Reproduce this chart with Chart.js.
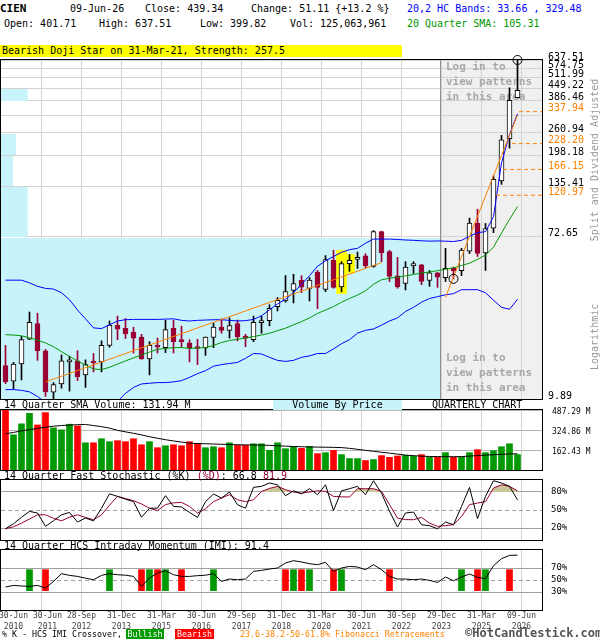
<!DOCTYPE html>
<html lang="en">
<head>
<meta charset="utf-8">
<title>CIEN Quarterly Chart</title>
<script src="https://cdn.jsdelivr.net/npm/chart.js@4.4.1/dist/chart.umd.min.js"></script>
<style>
    body { margin: 0; background: #fff; }
    #page { position: relative; width: 600px; height: 640px; overflow: hidden;
            font-family: 'DejaVu Sans Mono', monospace; font-size: 10px; color: #000; }
    #page canvas { position: absolute; left: 0; z-index: 1; }
    .txt { position: absolute; white-space: pre; line-height: 12px; z-index: 2; }
    .blue { color: #0000ff; }
    .green { color: #009900; }
    .crimson { color: #990033; }
    .side { position: absolute; color: #999; white-space: pre; line-height: 12px;
            transform: rotate(-90deg); z-index: 2; text-align: center; }
    .foot { position: absolute; top: 629px; font-size: 8.3px; line-height: 10px; white-space: pre; z-index: 2; }
</style>
</head>
<body>
<div id="page">
    <!-- 标题信息 -->
    <div class="txt" style="left:0;top:3px;font-weight:bold;font-size:11px">CIEN</div>
    <div class="txt" style="left:70px;top:3px">09-Jun-26</div>
    <div class="txt" style="left:145px;top:3px">Close: 439.34</div>
    <div class="txt" style="left:251px;top:3px">Change: 51.11 {+13.2 %}</div>
    <div class="txt blue" style="left:407px;top:3px">20,2 HC Bands: 33.66 , 329.48</div>
    <div class="txt" style="left:4px;top:18px">Open: 401.71</div>
    <div class="txt" style="left:99px;top:18px">High: 637.51</div>
    <div class="txt" style="left:200px;top:18px">Low: 399.82</div>
    <div class="txt" style="left:290px;top:18px">Vol: 125,063,961</div>
    <div class="txt green" style="left:407px;top:18px">20 Quarter SMA: 105.31</div>
    <div class="txt" style="left:0;top:45px;width:402px;height:12px;background:#ffff00;padding-left:2px;box-sizing:border-box">Bearish Doji Star on 31-Mar-21, Strength: 257.5</div>

    <canvas id="priceChart" width="600" height="354" style="top:50px"></canvas>
    <canvas id="volumeChart" width="600" height="71" style="top:404px"></canvas>
    <canvas id="stochChart" width="600" height="72" style="top:474px"></canvas>
    <canvas id="imiChart" width="600" height="90" style="top:544px"></canvas>

    <div class="side" style="left:513px;top:154px;width:164px">Split and Dividend Adjusted</div>
    <div class="side" style="left:562px;top:331px;width:66px">Logarithmic</div>

    <!-- 副图标题 -->
    <div class="txt" style="left:4px;top:399px">14 Quarter SMA Volume: 131.94 M</div>
    <div class="txt" style="left:273px;top:400px;width:129px;height:10px;line-height:10px;background:#c9f3fb;text-align:center">Volume By Price</div>
    <div class="txt" style="left:432px;top:399px">QUARTERLY CHART</div>
    <div class="txt" style="left:4px;top:470px">14 Quarter Fast Stochastic (%K) <span class="crimson">(%D)</span>: 66.8 <span class="crimson">81.9</span></div>
    <div class="txt" style="left:4px;top:540px">14 Quarter HCS Intraday Momentum (IMI): 91.4</div>

    <!-- 页脚 -->
    <div class="foot" style="left:2px">% K - HCS IMI Crossover,</div>
    <div class="foot" style="left:126px;width:38px;background:#009900;color:#fff;text-align:center">Bullish</div>
    <div class="foot" style="left:175px;width:39px;background:#ff0000;color:#fff;text-align:center">Bearish</div>
    <div class="foot" style="left:240px;color:#ff8000">23.6-38.2-50-61.8% Fibonacci Retracements</div>
    <div class="foot" style="left:465px;top:627px;font-size:12px;line-height:13px;font-weight:bold;color:#555">©HotCandlestick.com</div>
</div>

<script>
// 季度K线数据 (Q2 2010 - Q2 2026)
const opens  = [14.9, 12.3, 15.2, 20.6, 25.0, 17.9, 10.75, 11.9, 15.6, 15.8,
                13.3, 15.6, 15.6, 19.1, 24.5, 23.6, 22.5, 21.2, 16.2, 19.1,
                18.6, 23.6, 20.3, 19.7, 18.6, 18.5, 21.1, 23.9, 23.0, 25.0,
                21.4, 20.5, 25.3, 25.9, 30.8, 33.0, 37.6, 42.5, 38.5, 47.0,
                38.0, 54.4, 39.2, 52.2, 55.0, 57.4, 50.4, 77.3, 60.5, 45.0,
                40.9, 50.8, 51.5, 42.5, 46.6, 43.9, 49.2, 47.9, 60.9, 85.8,
                59.5, 80.7, 144.1, 242.2, 401.71];
const highs  = [19.1, 15.5, 21.4, 28.8, 28.4, 18.2, 12.1, 17.0, 16.7, 17.9,
                16.0, 17.3, 20.2, 25.8, 27.4, 26.6, 23.9, 21.9, 20.0, 20.9,
                26.0, 26.0, 24.2, 20.5, 20.6, 21.2, 25.1, 26.5, 26.8, 26.1,
                21.9, 27.4, 27.4, 31.5, 34.4, 45.1, 45.8, 45.0, 44.0, 48.0,
                57.6, 61.6, 53.5, 58.4, 60.2, 59.0, 78.4, 77.8, 61.5, 56.4,
                53.5, 53.5, 51.8, 48.0, 46.8, 63.0, 50.0, 63.0, 91.4, 101.9,
                85.5, 153.4, 252.4, 452.9, 637.51];
const lows   = [11.95, 11.2, 12.5, 20.5, 15.9, 10.2, 9.6, 11.3, 10.9, 12.4,
                11.4, 13.8, 13.8, 18.7, 20.5, 20.8, 17.4, 16.1, 13.3, 17.4,
                17.5, 17.4, 18.6, 15.6, 15.1, 16.9, 18.6, 22.2, 20.9, 20.2,
                18.8, 20.0, 22.2, 24.3, 29.2, 32.5, 32.2, 36.5, 33.0, 30.0,
                37.0, 38.6, 36.9, 47.5, 49.2, 49.6, 50.0, 53.5, 41.9, 38.6,
                37.8, 46.3, 40.3, 39.5, 39.0, 41.9, 43.3, 45.0, 59.1, 57.0,
                48.0, 76.4, 138.3, 215.9, 399.82];
const closes = [12.2, 15.2, 20.5, 25.4, 17.9, 10.8, 11.8, 15.8, 15.9, 13.0,
                15.1, 15.4, 19.1, 24.5, 23.3, 22.0, 20.9, 16.2, 19.1, 18.7,
                23.2, 20.0, 20.0, 18.6, 18.4, 21.2, 23.9, 23.0, 24.4, 21.2,
                20.9, 25.4, 25.9, 30.1, 33.3, 37.0, 40.8, 39.1, 42.6, 39.0,
                54.9, 39.0, 52.2, 54.4, 56.4, 50.8, 77.3, 59.5, 44.6, 39.2,
                50.0, 52.2, 41.9, 46.6, 44.2, 49.2, 47.8, 61.6, 85.8, 59.1,
                80.4, 147.2, 239.2, 388.23, 439.34];

// 20,2 HC 通道 与 20季度均线
const bandUpper = [42.6, 42.6, 42.6, 41.2, 39.5, 38.5, 38.2, 36.5, 33.5, 29.5,
                   26.5, 23.7, 23.5, 24.6, 25.8, 26.2, 26.3, 26.3, 26.3, 26.3,
                   26.4, 26.5, 26.0, 25.8, 26.0, 26.1, 26.2, 26.2, 26.0, 25.8,
                   25.9, 26.3, 27.5, 29.6, 31.8, 33.7, 36.6, 40.5, 45.0, 50.5,
                   54.0, 57.0, 60.0, 62.0, 63.0, 67.0, 70.6, 70.6, 70.6, 70.2,
                   69.8, 69.5, 69.1, 68.8, 69.0, 68.8, 68.5, 69.5, 73.0, 76.4,
                   77.3, 93.0, 180, 255, 329.48];
const bandLower = [11.1, 11.1, 11.0, 10.8, 10.2, 9.5, 8.8, 8.2, 7.8, 7.6,
                   7.6, 7.8, 8.2, 8.8, 9.6, 10.6, 11.4, 11.9, 12.0, 12.1,
                   12.1, 12.2, 12.4, 12.9, 13.5, 14.0, 14.8, 15.1, 15.3, 15.5,
                   16.3, 17.3, 17.2, 16.5, 15.9, 15.7, 15.9, 16.5, 16.8, 17.3,
                   17.3, 18.3, 19.5, 20.5, 22.2, 23.0, 23.4, 24.5, 25.8, 26.8,
                   29.0, 30.5, 32.5, 34.0, 34.8, 35.6, 36.1, 37.9, 37.9, 37.9,
                   36.5, 33.3, 30.5, 29.8, 33.66];
const sma20     = [21.8, 21.7, 21.5, 21.0, 20.4, 19.7, 18.8, 17.7, 16.7, 15.8,
                   15.0, 14.3, 14.2, 14.6, 15.2, 15.8, 16.4, 17.0, 17.6, 18.2,
                   18.4, 18.6, 18.6, 18.4, 18.5, 18.6, 19.1, 19.8, 20.3, 20.6,
                   20.9, 21.3, 21.7, 22.2, 22.9, 23.6, 24.6, 25.6, 26.8, 28.3,
                   29.5, 30.8, 32.5, 34.0, 35.5, 37.4, 40.5, 42.8, 43.6, 44.2,
                   44.9, 45.7, 46.5, 47.1, 47.9, 48.7, 49.6, 51.0, 52.5, 55.0,
                   58.0, 64.0, 76.0, 90.0, 105.31];

// 趋势线与斐波那契回撤
const trendLines = [[{ x: 5, y: 12.2 }, { x: 47, y: 52.8 }],
                    [{ x: 55, y: 34.5 }, { x: 64, y: 324 }]];
const fibLevels = [337.94, 228.20, 166.15, 120.97];
const fibStart  = [64.2, 63.3, 62.2, 61.3];
const markedPoints = [{ x: 56, y: 43.3 }, { x: 64, y: 637.51 }];
const patternIdx = [42, 43];

// 价格坐标刻度 与 成交量分布 (百万)
const priceTicks = [9.89, 72.65, 135.41, 198.18, 260.94, 323.69, 386.46, 449.22, 511.99, 574.75, 637.51];
const hiddenPriceTicks = [323.69];
const vbpVolume = [16500, 1000, 450, 560, 0, 0, 1000, 0, 0, 0];

// 成交量 (百万) 与 14季度均量
const volumes = [490, 286, 375, 460, 366, 466, 342, 326, 372, 358,
                 221, 221, 254, 230, 238, 230, 254, 205, 230, 181,
                 197, 205, 197, 230, 216, 181, 189, 181, 221, 200,
                 200, 213, 213, 160, 221, 173, 192, 176, 192, 133,
                 141, 160, 125, 93, 93, 77, 85, 117, 103, 114,
                 119, 111, 125, 103, 103, 141, 103, 103, 141, 165,
                 141, 157, 189, 213, 125.06];
const volumeSma = [294, 305, 318, 328, 338, 348, 356, 361, 365, 368,
                   370, 361, 352, 340, 322, 310, 298, 285, 270, 258,
                   246, 236, 227, 218, 215, 213, 211, 209, 207, 205,
                   204, 203, 202, 200, 197, 194, 191, 189, 187, 186,
                   185, 184, 182, 176, 168, 160, 152, 144, 137, 129,
                   121, 117, 112, 110, 109, 108, 108, 109, 113, 117,
                   121, 124, 127, 130, 131.94];
const volumeTicks = [162.43, 324.86, 487.29];

// 快速随机指标
const stochK = [18.8, 27, 38, 47.7, 45, 22.7, 32, 42, 46, 30,
                36.6, 32, 53, 77, 72.7, 68, 64, 38, 53, 53,
                73.8, 56, 55, 46, 37.7, 64, 76.6, 70, 80, 58.8,
                53, 87.7, 89.4, 95, 92, 73.8, 82, 77, 85.5, 75.5,
                92, 49, 82, 85.5, 89.4, 75.5, 98.8, 78, 48, 21.6,
                45, 46.6, 25.5, 23.8, 18.8, 30, 25.5, 56, 87.7, 35.5,
                72.7, 98.8, 95, 89.4, 66.8];
const stochD = [18.8, 22, 28, 35, 42, 42, 36, 32, 38, 42,
                37.7, 33.8, 42, 58, 72.7, 69, 65.5, 60, 53, 49,
                59, 62, 62.7, 56, 45, 52, 64, 70, 75.5, 67,
                64, 67, 81, 86, 89.4, 83.9, 80, 78, 80, 82,
                81, 72.7, 72, 71.6, 85.5, 85.5, 85.5, 81, 59, 36.6,
                34, 33.8, 37.7, 28, 22.7, 24, 25.5, 39, 59, 61.6,
                64, 86.6, 92, 89.4, 81.9];

// 日内动量指标 与 交叉信号
const imi = [38.3, 41, 40, 39.4, 41, 36.6, 47.7, 60.5, 57.7, 56,
             53, 50.5, 57.7, 60.5, 58.8, 58, 56, 39.4, 53.3, 61.6,
             65.5, 58.8, 56, 56, 57.2, 58, 60.5, 47.7, 51.6, 50.5,
             51.6, 64.4, 66, 68.3, 70, 78.3, 82.2, 80, 77.2, 75.5,
             79.4, 64.4, 70, 72.7, 71.6, 67.2, 75.5, 67.2, 56, 51.6,
             51.6, 50.5, 51.6, 49.4, 46, 55, 48.8, 55, 60, 54.4,
             52.2, 73.9, 85.5, 91, 91.4];
const imiBullish = [3, 13, 18, 20, 26, 36, 38, 42, 57, 60];
const imiBearish = [5, 17, 19, 22, 35, 37, 41, 48, 59, 63];
const crossoverRange = [32.2, 67.2];

// 横轴标签
const tickLabels = ['30-Jun 2010', '30-Jun 2011', '28-Sep 2012', '31-Dec 2013', '31-Mar 2015',
                    '30-Jun 2016', '29-Sep 2017', '31-Dec 2018', '31-Mar 2020', '30-Jun 2021',
                    '30-Sep 2022', '29-Dec 2023', '31-Mar 2025', '09-Jun 2026'];
const tickQuarter = [0, 4, 9, 14, 19, 24, 29, 34, 39, 44, 49, 54, 59, 64];

const CRIMSON = '#990033';
const ORANGE = '#ff8000';
const X_MIN = -0.5625;
const X_MAX = 67.0625;
const LOGIN_START = 54.3;

Chart.defaults.font.family = "'DejaVu Sans Mono', monospace";
Chart.defaults.font.size = 10;
Chart.defaults.color = '#000';

document.addEventListener('DOMContentLoaded', function() {
    initializeCharts();
});

function initializeCharts() {
    initializePriceChart();
    initializeVolumeChart();
    initializeStochChart();
    initializeImiChart();
}

function quarterPoints(values) {
    return values.map((v, i) => ({ x: i, y: v }));
}

function isUp(i) {
    return closes[i] >= opens[i];
}

// 横轴刻度：网格线在季度末，前两个标签错开避免重叠
function buildQuarterTicks() {
    const ticks = [];
    tickQuarter.forEach((q, i) => {
        const gridValue = q + 0.5;
        const nudge = i === 0 ? 0.5 : (i === 1 ? 0.75 : 0);
        if (nudge === 0) {
            ticks.push({ value: gridValue, isGrid: true, labelIdx: i });
        } else {
            if (i > 0) ticks.push({ value: gridValue, isGrid: true, labelIdx: -1 });
            ticks.push({ value: gridValue + nudge, isGrid: false, labelIdx: i });
        }
    });
    return ticks.sort((a, b) => a.value - b.value);
}

// 公共横轴
function xAxis(showLabels) {
    return {
        type: 'linear',
        min: X_MIN,
        max: X_MAX,
        offset: false,
        afterBuildTicks: function(scale) {
            scale.ticks = buildQuarterTicks();
        },
        afterFit: function(scale) {
            scale.height = showLabels ? 22 : 0;
            scale.paddingLeft = 0;
            scale.paddingRight = 0;
        },
        grid: {
            color: ctx => (ctx.tick && ctx.tick.isGrid) ? '#d3d3d3' : 'rgba(0,0,0,0)',
            drawTicks: false,
            offset: false
        },
        border: { display: false },
        ticks: {
            display: showLabels,
            autoSkip: false,
            maxRotation: 0,
            padding: 0,
            color: '#444',
            font: { size: 8, lineHeight: '11px' },
            callback: function(value, index, ticks) {
                const li = ticks[index].labelIdx;
                return li >= 0 ? tickLabels[li].split(' ') : '';
            }
        }
    };
}

function fixRightAxis(scale) {
    scale.width = 58;
    scale.paddingTop = 0;
    scale.paddingBottom = 0;
}

function baseOptions(padding) {
    return {
        responsive: false,
        animation: false,
        events: [],
        layout: { padding: padding, autoPadding: false },
        plugins: { legend: { display: false }, tooltip: { enabled: false } }
    };
}

// 图框
const framePlugin = {
    id: 'frame',
    afterDraw(chart) {
        const { ctx, chartArea: a } = chart;
        ctx.save();
        ctx.strokeStyle = '#000';
        ctx.lineWidth = 1;
        ctx.strokeRect(a.left - 0.5, a.top - 0.5, a.right - a.left + 1, a.bottom - a.top + 1);
        ctx.restore();
    }
};

// 价格图背景：登录区、成交量分布、斐波那契标签
const priceBackgroundPlugin = {
    id: 'priceBackground',
    beforeDraw(chart) {
        const { ctx, chartArea: a, scales } = chart;
        const x0 = Math.round(scales.x.getPixelForValue(LOGIN_START));
        ctx.save();
        ctx.fillStyle = '#f0f0f0';
        ctx.fillRect(x0, a.top, a.right - x0, a.bottom - a.top);
        ctx.restore();
    },
    beforeDatasetsDraw(chart) {
        const { ctx, chartArea: a, scales } = chart;
        const x0 = Math.round(scales.x.getPixelForValue(LOGIN_START));
        ctx.save();
        ctx.fillStyle = '#c9f3fb';
        vbpVolume.forEach((v, i) => {
            if (!v) return;
            const yTop = Math.round(scales.y.getPixelForValue(priceTicks[i + 1]));
            const yBot = Math.round(scales.y.getPixelForValue(priceTicks[i]));
            const xEnd = Math.min(scales.xv.getPixelForValue(v), x0);
            ctx.fillRect(a.left, yTop + 1, xEnd - a.left, yBot - yTop - 1);
        });
        ctx.strokeStyle = '#909090';
        ctx.lineWidth = 1;
        ctx.beginPath();
        ctx.moveTo(x0 + 0.5, a.top);
        ctx.lineTo(x0 + 0.5, a.bottom);
        ctx.stroke();
        ctx.fillStyle = '#a8a8a8';
        ctx.font = "bold 11px 'DejaVu Sans Mono'";
        ctx.textBaseline = 'middle';
        ['Log in to', 'view patterns', 'in this area'].forEach((t, i) => {
            ctx.fillText(t, x0 + 6, a.top + 7 + i * 15);
            ctx.fillText(t, x0 + 6, a.bottom - 41 + i * 15);
        });
        ctx.restore();
    },
    afterDraw(chart) {
        const { ctx, chartArea: a, scales } = chart;
        ctx.save();
        ctx.fillStyle = ORANGE;
        ctx.font = "10px 'DejaVu Sans Mono'";
        ctx.textBaseline = 'middle';
        fibLevels.forEach(v => {
            ctx.fillText(v.toFixed(2), a.right + 6, scales.y.getPixelForValue(v) - 3);
        });
        ctx.restore();
    }
};

function lineSet(values, color, order) {
    return {
        type: 'line',
        data: quarterPoints(values),
        borderColor: color,
        borderWidth: 1,
        pointRadius: 0,
        tension: 0,
        fill: false,
        order: order
    };
}

// 价格主图
function initializePriceChart() {
    const idx = opens.map((_, i) => i);
    const candleColor = idx.map(i => isUp(i) ? '#000' : CRIMSON);
    const patternTop = Math.max(...patternIdx.map(p => highs[p]));

    const datasets = [
        {
            data: patternIdx.map((q, j) => ({ x: q, y: [lows[q] * 0.98, j === 0 ? patternTop * 1.05 : highs[q]] })),
            backgroundColor: '#ffff00',
            barThickness: 10,
            grouped: false,
            order: 9
        },
        {
            data: idx.map(i => ({ x: i, y: [lows[i], highs[i]] })),
            backgroundColor: candleColor,
            barThickness: 1,
            grouped: false,
            order: 8
        },
        {
            data: idx.map(i => ({ x: i, y: [opens[i], closes[i]] })),
            backgroundColor: idx.map(i => isUp(i) ? '#ffffff' : CRIMSON),
            borderColor: candleColor,
            borderWidth: 1,
            borderSkipped: false,
            barThickness: 5,
            minBarLength: 2,
            grouped: false,
            order: 7
        },
        lineSet(sma20, '#009900', 3),
        lineSet(bandUpper, '#0000ff', 2),
        lineSet(bandLower, '#0000ff', 2)
    ];

    trendLines.forEach(points => {
        datasets.push({ type: 'line', data: points, borderColor: ORANGE, borderWidth: 1, pointRadius: 0, order: 1 });
    });
    fibLevels.forEach((v, i) => {
        datasets.push({
            type: 'line',
            data: [{ x: fibStart[i], y: v }, { x: X_MAX, y: v }],
            borderColor: ORANGE,
            borderWidth: 1,
            borderDash: [4, 3],
            pointRadius: 0,
            order: 1
        });
    });
    datasets.push({
        type: 'line',
        data: markedPoints,
        showLine: false,
        pointRadius: 4.5,
        pointBorderColor: '#000',
        pointBackgroundColor: 'rgba(0,0,0,0)',
        pointBorderWidth: 1,
        clip: false,
        order: 0
    });

    const options = baseOptions({ top: 10, bottom: 5, left: 1, right: 0 });
    options.scales = {
        x: xAxis(false),
        xv: { type: 'linear', axis: 'x', display: false, offset: false, min: 0, max: 20260 },
        y: {
            type: 'logarithmic',
            position: 'right',
            min: 9.89,
            max: 637.51,
            afterBuildTicks: s => { s.ticks = priceTicks.map(v => ({ value: v })); },
            afterFit: fixRightAxis,
            grid: { color: '#d3d3d3', drawTicks: false },
            border: { display: false },
            ticks: {
                autoSkip: false,
                padding: 6,
                labelOffset: -3,
                font: { size: 10 },
                callback: v => hiddenPriceTicks.includes(v) ? '' : v.toFixed(2)
            }
        }
    };

    new Chart(document.getElementById('priceChart'), {
        type: 'bar',
        data: { datasets: datasets },
        options: options,
        plugins: [priceBackgroundPlugin, framePlugin]
    });
}

// 成交量副图
function initializeVolumeChart() {
    const options = baseOptions({ top: 6, bottom: 5, left: 1, right: 0 });
    options.scales = {
        x: xAxis(false),
        y: {
            type: 'linear',
            position: 'right',
            min: 0,
            max: 487.29,
            afterBuildTicks: s => { s.ticks = volumeTicks.map(v => ({ value: v })); },
            afterFit: fixRightAxis,
            grid: { color: '#b4b4b4', drawTicks: false },
            border: { display: false },
            ticks: { autoSkip: false, padding: 10, labelOffset: 2, font: { size: 8 }, callback: v => v.toFixed(2) + ' M' }
        }
    };

    new Chart(document.getElementById('volumeChart'), {
        type: 'bar',
        data: {
            datasets: [
                {
                    data: quarterPoints(volumes),
                    backgroundColor: volumes.map((_, i) => isUp(i) ? '#009900' : '#ff0000'),
                    barThickness: 6,
                    grouped: false,
                    order: 2
                },
                lineSet(volumeSma, '#000', 1)
            ]
        },
        options: options,
        plugins: [framePlugin]
    });
}

function percentAxis(ticks) {
    return {
        type: 'linear',
        position: 'right',
        min: 0,
        max: 100,
        afterBuildTicks: s => { s.ticks = ticks.map(v => ({ value: v })); },
        afterFit: fixRightAxis,
        grid: { color: '#a0a0a0', drawTicks: false },
        border: { display: false, dash: ctx => ctx.tick && ctx.tick.value === 50 ? [4, 3] : [] },
        ticks: { autoSkip: false, padding: 9, font: { size: 9 }, callback: v => v + '%' }
    };
}

// 快速随机指标副图
function initializeStochChart() {
    const options = baseOptions({ top: 6, bottom: 6, left: 1, right: 0 });
    options.scales = { x: xAxis(false), y: percentAxis([20, 50, 80]) };

    const dLine = lineSet(stochD, CRIMSON, 2);
    dLine.fill = { target: { value: 80 }, above: '#cbc59a', below: 'rgba(0,0,0,0)' };

    new Chart(document.getElementById('stochChart'), {
        type: 'line',
        data: { datasets: [dLine, lineSet(stochK, '#000', 1)] },
        options: options,
        plugins: [framePlugin]
    });
}

// 日内动量指标副图
function initializeImiChart() {
    const options = baseOptions({ top: 6, bottom: 2, left: 1, right: 0 });
    options.scales = { x: xAxis(true), y: percentAxis([30, 50, 70]) };

    new Chart(document.getElementById('imiChart'), {
        type: 'bar',
        data: {
            datasets: [
                {
                    data: imiBullish.map(q => ({ x: q, y: crossoverRange })),
                    backgroundColor: '#009900',
                    barThickness: 6,
                    grouped: false,
                    order: 3
                },
                {
                    data: imiBearish.map(q => ({ x: q, y: crossoverRange })),
                    backgroundColor: '#ff0000',
                    barThickness: 6,
                    grouped: false,
                    order: 3
                },
                lineSet(imi, '#000', 1)
            ]
        },
        options: options,
        plugins: [framePlugin]
    });
}
</script>
</body>
</html>
